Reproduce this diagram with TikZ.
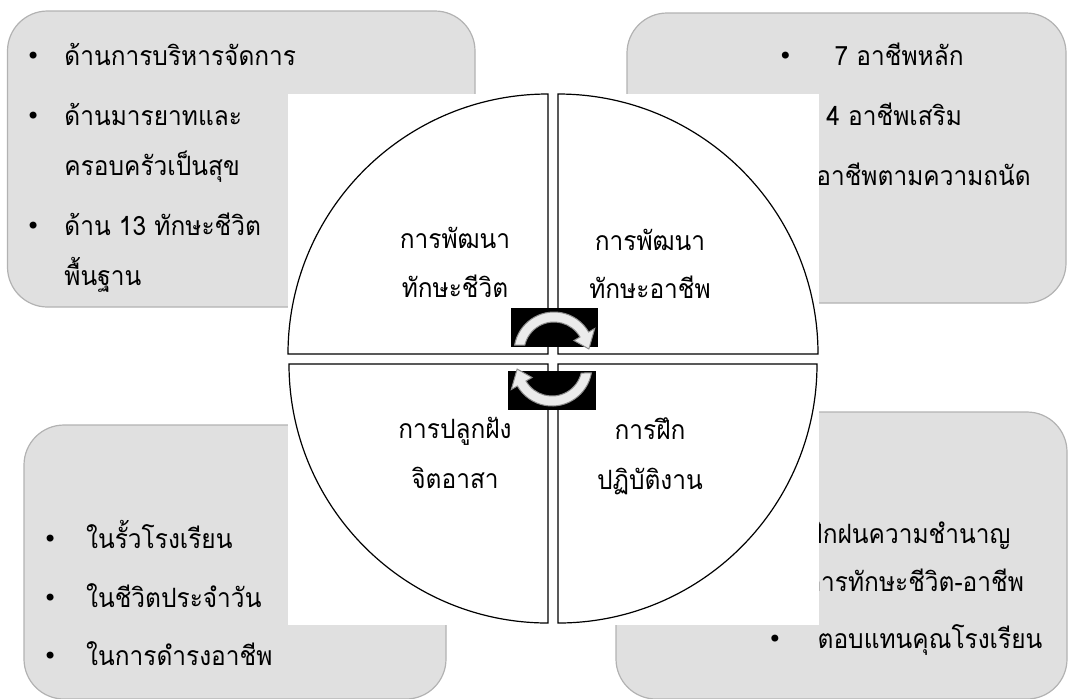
\documentclass[tikz,border=0pt]{standalone}
\usepackage{fontspec}
\setmainfont{Loma}[Script=Thai, FakeStretch=0.92]
\newfontfamily\dotfont{DejaVu Sans}
\usetikzlibrary{positioning}

\newcommand{\thaifs}{\fontsize{13.3}{16}\selectfont}
% bullet hung left of the item text, #1 = bullet centre to text start
\newcommand{\bul}[1][15.5pt]{\llap{\raisebox{0.2pt}{\dotfont\fontsize{12}{14}\selectfont\symbol{"2022}}\hspace{\dimexpr#1-3.5pt\relax}}}

\tikzset{
  panel/.style={draw=black!30, fill=black!12, line width=0.6pt, rounded corners=20pt},
  quad/.style={draw=black, fill=white, line width=0.6pt},
  item/.style={font=\thaifs, inner sep=0pt, anchor=base west},
  qtext/.style={font=\thaifs, inner sep=0pt, anchor=base},
  cyclebox/.style={fill=black},
  cyclearrow/.style={fill=black!8, draw=black!45, line width=0.5pt}
}

\begin{document}
\begin{tikzpicture}[x=0.5pt, y=-0.5pt]
    \useasboundingbox (0,0) rectangle (1069,698);

    % Panels
    \draw[panel] (7.5,11) rectangle (475,307);
    \node[item] (tl1) at (64,65) {\bul ด้านการบริหารจัดการ};
    \node[item] (tl2) at (64,125) {\bul ด้านมารยาทและ};
    \node[item] (tl3) at (64,175) {ครอบครัวเป็นสุข};
    \node[item] (tl4) at (64,235) {\bul ด้าน 13 ทักษะชีวิต};
    \node[item] (tl5) at (64,285) {พื้นฐาน};

    \draw[panel] (627,13) rectangle (1066,303);
    \node[item] (tr1) at (826,65) {\bul[20.5pt] 7 อาชีพหลัก};
    \node[item] (tr2) at (826,125) {4 อาชีพเสริม};
    \node[item] (tr3) at (816,185) {อาชีพตามความถนัด};

    \draw[panel] (24,425) rectangle (446,699);
    \node[item] (bl1) at (77.5,548) {\bul[13.75pt] ในรั้วโรงเรียน};
    \node[item] (bl2) at (77.5,607) {\bul[13.75pt] ในชีวิตประจำวัน};
    \node[item] (bl3) at (77.5,665) {\bul[13.75pt] ในการดำรงอาชีพ};

    \draw[panel] (616,412) rectangle (1067,699);
    \node[item] (br1) at (808,543) {ฝึกฝนความชำนาญ};
    \node[item] (br2) at (806,591) {การทักษะชีวิต-อาชีพ};
    \node[item] (br3) at (809,648) {\bul[17.25pt] ตอบแทนคุณโรงเรียน};

    % Circle in four quarters
    \fill[white] (288,94) rectangle (819,625);
    \draw[quad] (548,354) -- (548,94) arc[start angle=-90, end angle=-180, radius=260] -- cycle;
    \draw[quad] (558,354) -- (558,94) arc[start angle=-90, end angle=0, radius=260] -- cycle;
    \draw[quad] (548,364) -- (548,623) arc[start angle=90, end angle=180, radius=259] -- cycle;
    \draw[quad] (558,364) -- (558,623) arc[start angle=90, end angle=0, radius=259] -- cycle;

    \node[qtext] (q1a) at (455,248) {การพัฒนา};
    \node[qtext] (q1b) at (455,297) {ทักษะชีวิต};
    \node[qtext] (q2a) at (650,250) {การพัฒนา};
    \node[qtext] (q2b) at (650,298) {ทักษะอาชีพ};
    \node[qtext] (q3a) at (455,438) {การปลูกฝัง};
    \node[qtext] (q3b) at (455,488) {จิตอาสา};
    \node[qtext] (q4a) at (650,439) {การฝึก};
    \node[qtext] (q4b) at (650,489) {ปฏิบัติงาน};

    % Cycle arrows
    \fill[cyclebox] (511,308) rectangle (598,347);
    \fill[cyclebox] (508,371) rectangle (596,410);
    \begin{scope}[shift={(554,352)}]
        \draw[cyclearrow] (-170:40) arc[start angle=-170, end angle=-30, radius=40]
            -- (-30:47) -- (-5:35) -- (-30:23) -- (-30:30)
            arc[start angle=-30, end angle=-166.5, radius=30] -- cycle;
    \end{scope}
    \begin{scope}[shift={(552,366)}, rotate=180]
        \draw[cyclearrow] (-170:40) arc[start angle=-170, end angle=-30, radius=40]
            -- (-30:47) -- (-5:35) -- (-30:23) -- (-30:30)
            arc[start angle=-30, end angle=-166.5, radius=30] -- cycle;
    \end{scope}
\end{tikzpicture}
\end{document}
